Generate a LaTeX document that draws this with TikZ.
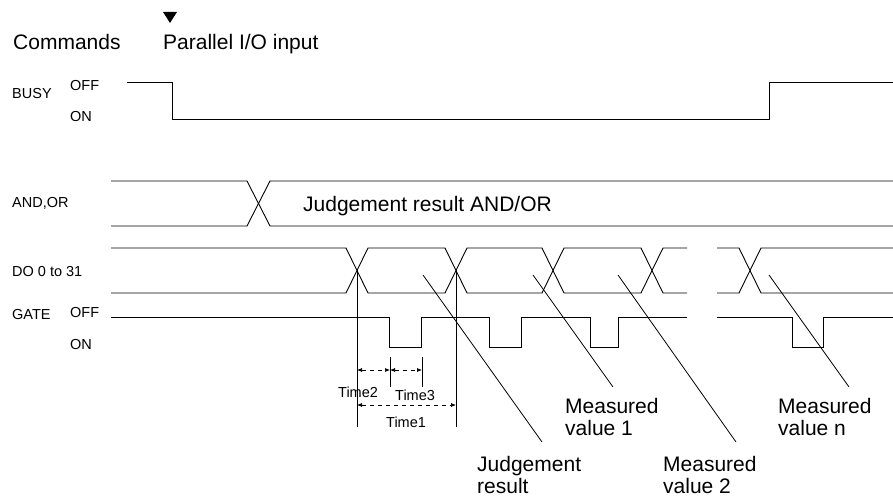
\documentclass[tikz,border=0pt]{standalone}
\usepackage{fontspec}
\setmainfont{Liberation Sans}
\usetikzlibrary{arrows.meta}
\begin{document}
\begin{tikzpicture}[x=1bp,y=-1bp,
  wave/.style={line width=0.9bp,line join=miter},
  big/.style={font=\fontsize{21bp}{23bp}\selectfont,inner sep=0pt,anchor=base west},
  bigtwo/.style={font=\fontsize{21bp}{22bp}\selectfont,inner sep=0pt,anchor=north west,align=left},
  small/.style={font=\fontsize{14.5bp}{16bp}\selectfont,inner sep=0pt,anchor=base west},
  dimline/.style={line width=0.7bp,dash pattern=on 4bp off 4bp,{Latex[length=5bp,width=4bp]}-{Latex[length=5bp,width=4bp]}},
  leader/.style={line width=0.8bp},
  marker/.style={line width=0.8bp}]
\useasboundingbox (0,0) rectangle (893,498);

% header
\fill (163,12) -- (177,12) -- (170,23) -- cycle;
\node[big] (cmd) at (13,50) {Commands};
\node[big] (pio) at (163,50) {Parallel I/O input};

% signal labels
\node[small] (busy) at (12,99) {BUSY};
\node[small] (busyoff) at (70,91) {OFF};
\node[small] (busyon) at (70,122) {ON};
\node[small] (andor) at (12,208) {AND,OR};
\node[small] (do) at (12,277) {DO 0 to 31};
\node[small] (gate) at (12,320) {GATE};
\node[small] (gateoff) at (70,318) {OFF};
\node[small] (gateon) at (70,350) {ON};

% BUSY
\draw[wave] (127,82) -- (172,82) -- (172,119) -- (769,119) -- (769,82) -- (893,82);

% AND,OR
\draw[wave] (111,181) -- (247,181) -- (270,226) -- (893,226);
\draw[wave] (111,226) -- (247,226) -- (270,181) -- (893,181);
\node[big] (jr) at (303,212) {Judgement result AND/OR};

% DO 0 to 31
\draw[wave] (111,248) -- (346,248) -- (368,293) -- (445,293) -- (467,248) -- (542,248) -- (564,293) -- (641,293) -- (663,248) -- (687,248);
\draw[wave] (111,293) -- (346,293) -- (368,248) -- (445,248) -- (467,293) -- (542,293) -- (564,248) -- (641,248) -- (663,293) -- (687,293);
\draw[wave] (717,248) -- (739,248) -- (761,293) -- (893,293);
\draw[wave] (717,293) -- (739,293) -- (761,248) -- (893,248);

% GATE
\draw[wave] (111,317) -- (389,317) -- (389,347) -- (421,347) -- (421,317) -- (489,317) -- (489,347) -- (521,347) -- (521,317) -- (590,317) -- (590,347) -- (618,347) -- (618,317) -- (687,317);
\draw[wave] (717,317) -- (792,317) -- (792,347) -- (823,347) -- (823,317) -- (893,317);

% timing markers
\coordinate (v1t) at (357,270); \coordinate (v1b) at (357,427);
\coordinate (v2t) at (456,270); \coordinate (v2b) at (456,427);
\coordinate (v3t) at (390,357); \coordinate (v3b) at (390,387);
\coordinate (v4t) at (422,357); \coordinate (v4b) at (422,387);
\draw[marker] (v1t) -- (v1b);
\draw[marker] (v2t) -- (v2b);
\draw[marker] (v3t) -- (v3b);
\draw[marker] (v4t) -- (v4b);
\coordinate (t2a) at (357,370); \coordinate (t2b) at (390,370);
\coordinate (t3a) at (390,370); \coordinate (t3b) at (422,370);
\coordinate (t1a) at (357,405); \coordinate (t1b) at (456,405);
\draw[dimline] (t2a) -- (t2b);
\draw[dimline] (t3a) -- (t3b);
\draw[dimline] (t1a) -- (t1b);
\node[small] (time2) at (338,397) {Time2};
\node[small] (time3) at (395,400) {Time3};
\node[small] (time1) at (386,427) {Time1};

% leaders and labels
\coordinate (l1s) at (423,275); \coordinate (l1e) at (542,442);
\coordinate (l2s) at (533,275); \coordinate (l2e) at (613,387);
\coordinate (l3s) at (618,275); \coordinate (l3e) at (736,442);
\coordinate (l4s) at (769,275); \coordinate (l4e) at (849,387);
\draw[leader] (l1s) -- (l1e);
\draw[leader] (l2s) -- (l2e);
\draw[leader] (l3s) -- (l3e);
\draw[leader] (l4s) -- (l4e);
\node[bigtwo] (mv1) at (565,398) {Measured\\value 1};
\node[bigtwo] (mvn) at (778,398) {Measured\\value n};
\node[bigtwo] (jres) at (477,456) {Judgement\\result};
\node[bigtwo] (mv2) at (663,456) {Measured\\value 2};
\end{tikzpicture}
\end{document}
